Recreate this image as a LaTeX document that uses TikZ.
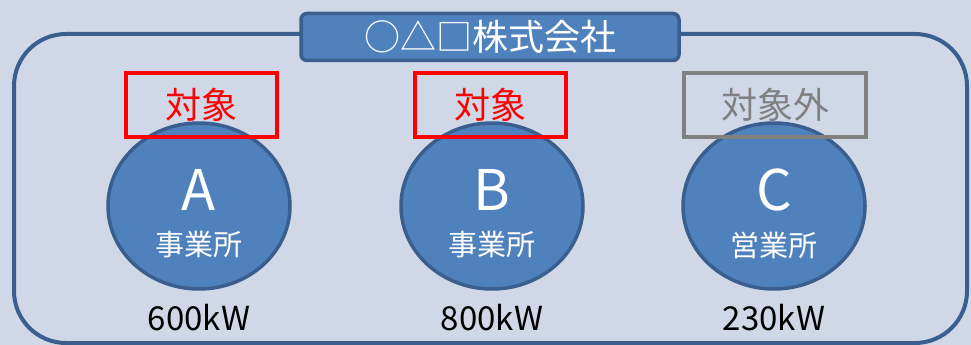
\documentclass[tikz,border=0pt]{standalone}
\usepackage{fontspec}
\setmainfont{Noto Sans CJK JP}
\usetikzlibrary{shapes.geometric}

\definecolor{bgcol}{HTML}{D0D8E7}
\definecolor{bluefill}{HTML}{4F81BD}
\definecolor{blueline}{HTML}{3A5F8E}
\definecolor{markred}{HTML}{FF0000}
\definecolor{markgray}{HTML}{808080}

\tikzset{
  sitecircle/.style={ellipse, draw=blueline, fill=bluefill, line width=3.5pt,
    minimum width=182pt, minimum height=166pt, inner sep=0pt},
  targetbox/.style={rectangle, draw=markred, line width=4pt, text=markred,
    minimum width=151pt, minimum height=64pt, font=\fontsize{36}{40}\selectfont},
  outsidebox/.style={targetbox, draw=markgray, text=markgray},
  letterlabel/.style={text=white, font=\fontsize{56}{60}\selectfont},
  kindlabel/.style={text=white, font=\fontsize{29}{32}\selectfont},
  powerlabel/.style={text=black, font=\fontsize{33}{36}\selectfont}
}

\begin{document}
\begin{tikzpicture}[x=1pt,y=-1pt]

% Fix the picture size and fill the background
\useasboundingbox (0,0) rectangle (971,345);
\fill[bgcol] (0,0) rectangle (971,345);
\clip (0,0) rectangle (971,345);

% Outer frame of the company (cut off at bottom and right)
\draw[blueline, line width=4pt, rounded corners=52pt] (14,34) rectangle (967,343);

% Company name plate
\node[rectangle, draw=blueline, fill=bluefill, line width=3.5pt, rounded corners=6pt,
  minimum width=378pt, minimum height=47pt, text=white,
  font=\fontsize{36}{40}\selectfont] (company) at (490,37) {○△□株式会社};

% Sites A, B and C
\node[sitecircle] (siteA) at (199,206) {};
\node[sitecircle] (siteB) at (492,206) {};
\node[sitecircle] (siteC) at (774,206) {};

% Letters of the sites
\node[letterlabel] (letterA) at (199,190) {A};
\node[letterlabel] (letterB) at (492,190) {B};
\node[letterlabel] (letterC) at (774,190) {C};

% Kind of each site
\node[kindlabel] (kindA) at (199,245) {事業所};
\node[kindlabel] (kindB) at (492,245) {事業所};
\node[kindlabel] (kindC) at (774,245) {営業所};

% Target marks above the sites
\node[targetbox] (markA) at (201,105) {対象};
\node[targetbox] (markB) at (490,105) {対象};
\node[outsidebox, minimum width=182pt] (markC) at (775,105) {対象外};

% Power of each site
\node[powerlabel] (powerA) at (199,318) {600kW};
\node[powerlabel] (powerB) at (492,318) {800kW};
\node[powerlabel] (powerC) at (774,318) {230kW};

\end{tikzpicture}
\end{document}
